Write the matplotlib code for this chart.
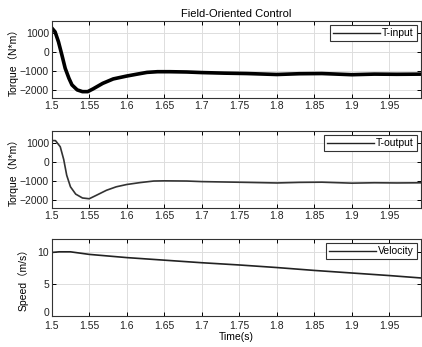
import numpy as np
import matplotlib.pyplot as plt

plt.rcParams['font.family'] = ['Liberation Sans', 'Noto Sans CJK SC', 'DejaVu Sans']
plt.rcParams['font.size'] = 7.5

# values
t_in = [1.500, 1.5045, 1.509, 1.5136, 1.518, 1.523, 1.527, 1.534, 1.541, 1.548,
        1.555, 1.568, 1.582, 1.600, 1.614, 1.627, 1.641, 1.657, 1.680, 1.700, 1.730,
        1.760, 1.800, 1.830, 1.860, 1.900, 1.930, 1.960, 1.995]
torque_in = [1240, 1035, 520, -170, -860, -1380, -1720, -1980, -2070, -2070,
             -1930, -1640, -1410, -1260, -1160, -1070, -1035, -1035, -1050, -1080, -1110,
             -1130, -1180, -1140, -1130, -1190, -1160, -1170, -1160]

t_out = [1.500, 1.505, 1.5114, 1.516, 1.520, 1.525, 1.532, 1.541, 1.550, 1.559,
         1.573, 1.586, 1.600, 1.618, 1.636, 1.650, 1.680, 1.700, 1.730, 1.760, 1.800,
         1.830, 1.860, 1.900, 1.930, 1.960, 1.995]
torque_out = [1100, 1100, 780, 120, -700, -1300, -1680, -1880, -1920, -1750,
              -1480, -1300, -1180, -1080, -1000, -990, -1000, -1030, -1050, -1070, -1100,
              -1070, -1060, -1110, -1090, -1100, -1090]

t_v = [1.500, 1.510, 1.525, 1.550, 1.600, 1.650, 1.700, 1.750, 1.800, 1.850, 1.900,
       1.950, 1.995]
velocity = [9.9, 10.0, 10.0, 9.6, 9.1, 8.7, 8.3, 7.95, 7.55, 7.1, 6.7, 6.3, 5.9]

xticks = [1.5, 1.55, 1.6, 1.65, 1.7, 1.75, 1.8, 1.85, 1.9, 1.95]

fig = plt.figure(figsize=(4.22, 3.47), dpi=100)
ax1 = fig.add_axes([0.1225, 0.7176, 0.875, 0.222])
ax2 = fig.add_axes([0.1225, 0.4006, 0.875, 0.222])
ax3 = fig.add_axes([0.1225, 0.0893, 0.875, 0.222])

ax1.plot(t_in, torque_in, color='black', lw=2.6, label='T-input')
ax2.plot(t_out, torque_out, color='#333333', lw=1.2, label='T-output')
ax3.plot(t_v, velocity, color='#222222', lw=1.2, label='Velocity')

for ax in (ax1, ax2):
    ax.set_ylim(-2400, 1600)
    ax.set_yticks([-2000, -1000, 0, 1000])
    ax.set_ylabel('Torque（N*m）', labelpad=1)
ax3.set_ylim(0, 12)
ax3.set_yticks([0, 5, 10])
ax3.set_ylabel('Speed（m/s）', labelpad=6)
ax3.set_xlabel('Time(s)', labelpad=1)
ax1.set_title('Field-Oriented Control', fontsize=8, pad=3)

for ax in (ax1, ax2, ax3):
    ax.set_xlim(1.5, 1.992)
    ax.set_xticks(xticks)
    ax.set_xticklabels([('%g' % x) for x in xticks])
    ax.grid(True, color='#dddddd', lw=0.7)
    ax.set_axisbelow(True)
    ax.tick_params(direction='in', top=True, right=True, length=3, width=0.7, pad=2,
                   labelcolor='#222222')
    for s in ax.spines.values():
        s.set_linewidth(0.8)
        s.set_color('#333333')
    leg = ax.legend(loc='upper right', handlelength=4.5, handletextpad=0.2, fancybox=False,
                    framealpha=1, edgecolor='#333333', borderpad=0.3, borderaxespad=0.4,
                    fontsize=7.5)
    leg.get_frame().set_linewidth(0.8)
    for h in leg.get_lines():
        h.set_linewidth(1.0)
        h.set_color('#222222')

# keep the "0" of the speed axis clear of the "1.5" below it
ax3.tick_params(axis='x', pad=3.5)
ax3.get_yticklabels()[0].set_verticalalignment('baseline')

fig.savefig('out.png', dpi=100)
